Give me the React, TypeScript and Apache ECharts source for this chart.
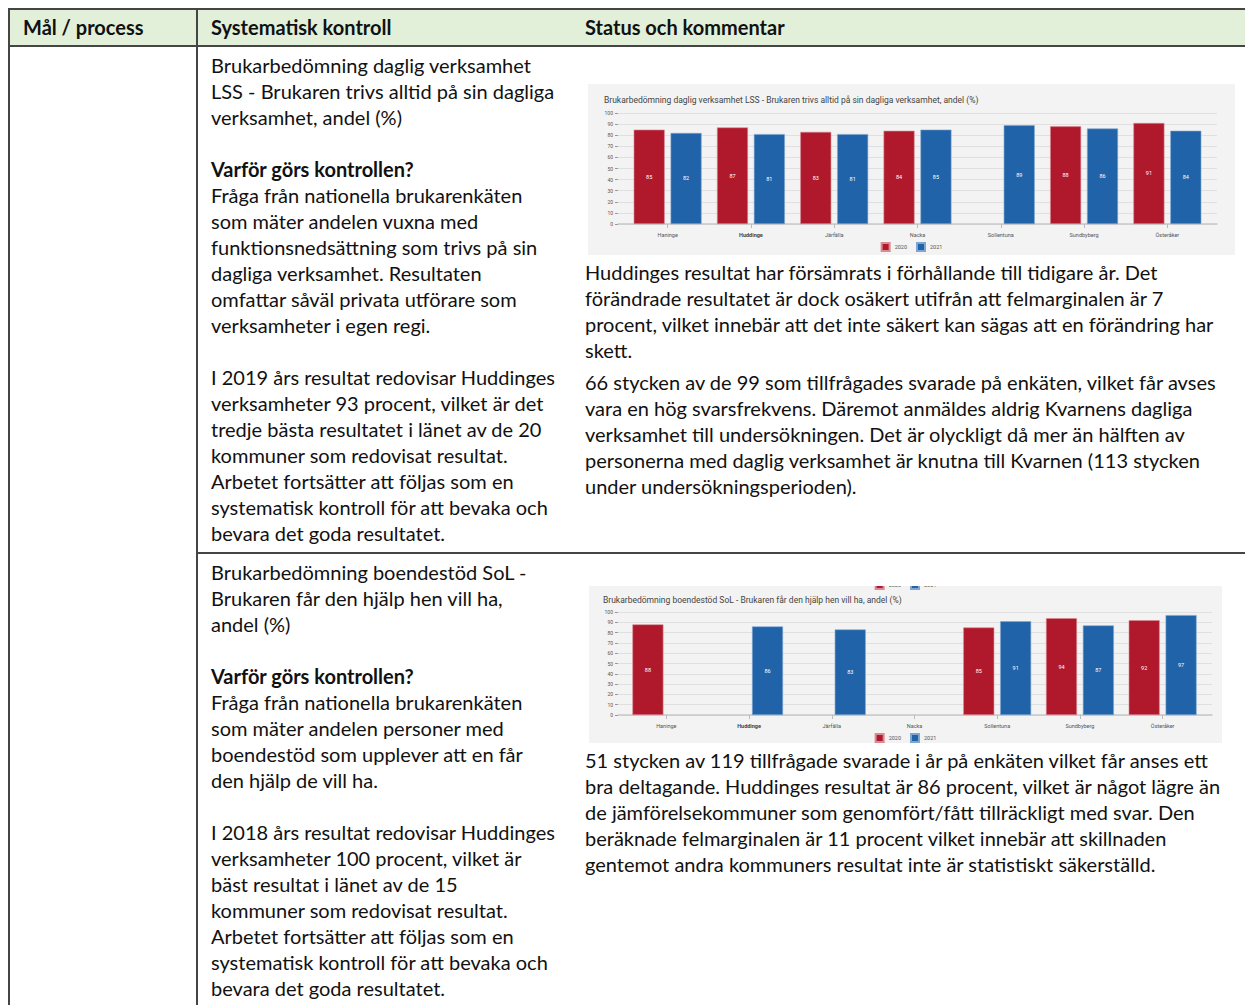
import React, { useEffect, useRef } from "react";
import * as echarts from "echarts";

const categories = ["Haninge", "Huddinge", "Järfälla", "Nacka", "Sollentuna", "Sundbyberg", "Österåker"];
const seriesNames = ["2020", "2021"];
const lss2020 = [85, 87, 83, 84, null, 88, 91];
const lss2021 = [82, 81, 81, 85, 89, 86, 84];
const sol2020 = [88, null, null, null, 85, 94, 92];
const sol2021 = [null, 86, 83, null, 91, 87, 97];
const lssTitle = "Brukarbedömning daglig verksamhet LSS - Brukaren trivs alltid på sin dagliga verksamhet, andel (%)";
const solTitle = "Brukarbedömning boendestöd SoL - Brukaren får den hjälp hen vill ha, andel (%)";

const RED = "#b0192c";
const BLUE = "#2163a9";

const headers = ["Mål / process", "Systematisk kontroll", "Status och kommentar"];

const row1Col2 = [
  "Brukarbedömning daglig verksamhet",
  "LSS - Brukaren trivs alltid på sin dagliga",
  "verksamhet, andel (%)",
  "",
  "**Varför görs kontrollen?",
  "Fråga från nationella brukarenkäten",
  "som mäter andelen vuxna med",
  "funktionsnedsättning som trivs på sin",
  "dagliga verksamhet. Resultaten",
  "omfattar såväl privata utförare som",
  "verksamheter i egen regi.",
  "",
  "I 2019 års resultat redovisar Huddinges",
  "verksamheter 93 procent, vilket är det",
  "tredje bästa resultatet i länet av de 20",
  "kommuner som redovisat resultat.",
  "Arbetet fortsätter att följas som en",
  "systematisk kontroll för att bevaka och",
  "bevara det goda resultatet.",
];

const row2Col2 = [
  "Brukarbedömning boendestöd SoL -",
  "Brukaren får den hjälp hen vill ha,",
  "andel (%)",
  "",
  "**Varför görs kontrollen?",
  "Fråga från nationella brukarenkäten",
  "som mäter andelen personer med",
  "boendestöd som upplever att en får",
  "den hjälp de vill ha.",
  "",
  "I 2018 års resultat redovisar Huddinges",
  "verksamheter 100 procent, vilket är",
  "bäst resultat i länet av de 15",
  "kommuner som redovisat resultat.",
  "Arbetet fortsätter att följas som en",
  "systematisk kontroll för att bevaka och",
  "bevara det goda resultatet.",
];

const row1Col3a = [
  "Huddinges resultat har försämrats i förhållande till tidigare år. Det",
  "förändrade resultatet är dock osäkert utifrån att felmarginalen är 7",
  "procent, vilket innebär att det inte säkert kan sägas att en förändring har",
  "skett.",
];
const row1Col3b = [
  "66 stycken av de 99 som tillfrågades svarade på enkäten, vilket får avses",
  "vara en hög svarsfrekvens. Däremot anmäldes aldrig Kvarnens dagliga",
  "verksamhet till undersökningen. Det är olyckligt då mer än hälften av",
  "personerna med daglig verksamhet är knutna till Kvarnen (113 stycken",
  "under undersökningsperioden).",
];
const row2Col3 = [
  "51 stycken av 119 tillfrågade svarade i år på enkäten vilket får anses ett",
  "bra deltagande. Huddinges resultat är 86 procent, vilket är något lägre än",
  "de jämförelsekommuner som genomfört/fått tillräckligt med svar. Den",
  "beräknade felmarginalen är 11 procent vilket innebär att skillnaden",
  "gentemot andra kommuners resultat inte är statistiskt säkerställd.",
];

const FONT = "Lato, 'Open Sans', sans-serif";
const TEXT_SIZE = 20;

type Geo = {
  titleLeft: number;
  titleTop: number;
  gridLeft: number;
  gridWidth: number;
  barLeft: number;
  barWidth: number;
  top: number;
  height: number;
  legendTop: number;
  topLegend?: number;
};

function legendAt(top: number) {
  return {
    top,
    left: "center",
    padding: 0,
    icon: "rect",
    itemWidth: 8,
    itemHeight: 8,
    itemGap: 9,
    textStyle: { fontSize: 5.5, color: "#555", fontFamily: "Roboto" },
    data: seriesNames,
  };
}

function buildOption(title: string, d2020: (number | null)[], d2021: (number | null)[], g: Geo) {
  const small = 5.5;
  const legends: any[] = [legendAt(g.legendTop)];
  if (g.topLegend !== undefined) legends.push(legendAt(g.topLegend));
  return {
    animation: false,
    backgroundColor: "#f3f3f3",
    title: {
      text: title,
      left: g.titleLeft,
      top: g.titleTop,
      padding: 0,
      textStyle: { fontSize: 8.5, fontWeight: "normal", color: "#444", fontFamily: "Roboto" },
    },
    legend: legends,
    grid: [
      { left: g.gridLeft, width: g.gridWidth, top: g.top, height: g.height, containLabel: false },
      { left: g.barLeft, width: g.barWidth, top: g.top, height: g.height, containLabel: false },
    ],
    xAxis: [
      {
        gridIndex: 0,
        type: "value",
        min: 0,
        max: 1,
        axisLabel: { show: false },
        axisTick: { show: false },
        splitLine: { show: false },
        axisLine: { show: true, lineStyle: { color: "#c8c8c8", width: 1.5 } },
      },
      {
        gridIndex: 1,
        type: "category",
        data: categories,
        axisLine: { show: false },
        axisTick: { show: true, alignWithLabel: true, length: 4, lineStyle: { color: "#bbb" } },
        axisLabel: {
          fontSize: small,
          color: "#555",
          fontFamily: "Roboto",
          margin: 8,
          formatter: (v: string) => (v === "Huddinge" ? `{b|${v}}` : v),
          rich: { b: { fontWeight: "bold", fontSize: small, color: "#444", fontFamily: "Roboto" } },
        },
      },
    ],
    yAxis: [
      {
        gridIndex: 0,
        type: "value",
        min: 0,
        max: 100,
        interval: 10,
        axisLine: { show: false },
        axisTick: { show: true, length: 3, lineStyle: { color: "#999" } },
        axisLabel: { fontSize: 5, color: "#555", fontFamily: "Roboto", margin: 5 },
        splitLine: { show: true, lineStyle: { color: "#e0e0e0", width: 1 } },
      },
      {
        gridIndex: 1,
        type: "value",
        min: 0,
        max: 100,
        interval: 10,
        show: false,
        splitLine: { show: false },
      },
    ],
    series: [
      {
        name: seriesNames[0],
        type: "bar",
        xAxisIndex: 1,
        yAxisIndex: 1,
        data: d2020,
        barWidth: 31,
        barGap: "19%",
        itemStyle: { color: RED, borderColor: "#d98a93", borderWidth: 0.6 },
        label: { show: true, position: "inside", color: "#fff", fontSize: small, fontFamily: "Roboto" },
      },
      {
        name: seriesNames[1],
        type: "bar",
        xAxisIndex: 1,
        yAxisIndex: 1,
        data: d2021,
        barWidth: 31,
        barGap: "19%",
        itemStyle: { color: BLUE, borderColor: "#7fa6d0", borderWidth: 0.6 },
        label: { show: true, position: "inside", color: "#fff", fontSize: small, fontFamily: "Roboto" },
      },
    ],
  };
}

function Chart(props: { option: any; style: React.CSSProperties }) {
  const ref = useRef<HTMLDivElement>(null);
  useEffect(() => {
    if (!ref.current) return;
    const chart = echarts.init(ref.current, undefined, { renderer: "svg" });
    chart.setOption(props.option);
    return () => chart.dispose();
  }, []);
  return <div ref={ref} style={props.style} />;
}

function Lines(props: { lines: string[]; left: number; top: number }) {
  return (
    <div
      style={{
        position: "absolute",
        left: props.left,
        top: props.top,
        fontFamily: FONT,
        fontSize: TEXT_SIZE,
        lineHeight: "26px",
        color: "#111",
        whiteSpace: "nowrap",
      }}
    >
      {props.lines.map((l, i) =>
        l.startsWith("**") ? (
          <div key={i} style={{ fontWeight: "bold", height: 26 }}>
            {l.slice(2)}
          </div>
        ) : (
          <div key={i} style={{ height: 26 }}>
            {l}
          </div>
        )
      )}
    </div>
  );
}

const lineColor = "#454545";

export default function App() {
  const opt1 = buildOption(lssTitle, lss2020, lss2021, {
    titleLeft: 16,
    titleTop: 11,
    gridLeft: 30,
    gridWidth: 599,
    barLeft: 38,
    barWidth: 583,
    top: 29,
    height: 111,
    legendTop: 158,
  });
  const opt2 = buildOption(solTitle, sol2020, sol2021, {
    titleLeft: 14,
    titleTop: 9,
    gridLeft: 29,
    gridWidth: 594,
    barLeft: 36,
    barWidth: 579,
    top: 26,
    height: 103,
    legendTop: 147,
    topLegend: -6,
  });
  return (
    <div
      style={{
        position: "absolute",
        left: 0,
        top: 0,
        width: 1245,
        height: 1005,
        overflow: "hidden",
        background: "#fff",
      }}
    >
      <div style={{ position: "absolute", left: 9, top: 9, width: 1236, height: 37, background: "#e2efd9" }} />
      <div style={{ position: "absolute", left: 8, top: 8, width: 1237, height: 2, background: lineColor }} />
      <div style={{ position: "absolute", left: 8, top: 45, width: 1237, height: 2, background: lineColor }} />
      <div style={{ position: "absolute", left: 8, top: 8, width: 2, height: 997, background: lineColor }} />
      <div style={{ position: "absolute", left: 196, top: 8, width: 2, height: 997, background: lineColor }} />
      <div style={{ position: "absolute", left: 196, top: 552, width: 1049, height: 2, background: lineColor }} />

      {[23, 211, 585].map((x, i) => (
        <div
          key={i}
          style={{
            position: "absolute",
            left: x,
            top: 14,
            fontFamily: FONT,
            fontSize: TEXT_SIZE,
            fontWeight: "bold",
            lineHeight: "26px",
            color: "#111",
            whiteSpace: "nowrap",
          }}
        >
          {headers[i]}
        </div>
      ))}

      <Lines lines={row1Col2} left={211} top={52} />
      <Lines lines={row2Col2} left={211} top={559} />
      <Lines lines={row1Col3a} left={585} top={259} />
      <Lines lines={row1Col3b} left={585} top={369} />
      <Lines lines={row2Col3} left={585} top={747} />

      <Chart option={opt1} style={{ position: "absolute", left: 588, top: 84, width: 647, height: 171 }} />
      <Chart option={opt2} style={{ position: "absolute", left: 589, top: 586, width: 633, height: 157 }} />
    </div>
  );
}
